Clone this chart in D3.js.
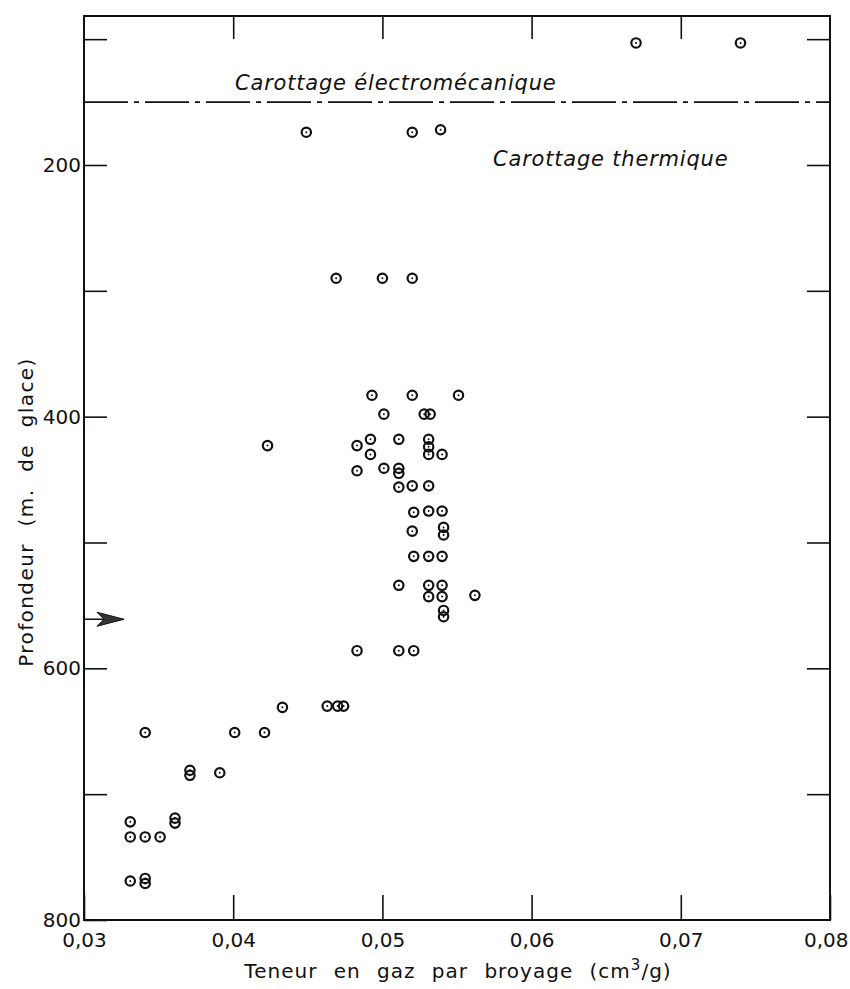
<!DOCTYPE html>
<html><head><meta charset="utf-8">
<script src="https://cdn.jsdelivr.net/npm/d3@7"></script>
<style>body{margin:0;background:#fff}</style></head>
<body><svg id="c" width="850" height="989"></svg>
<script>
// Gas content (cm3/g) and depth (m of ice) for each sample
const gasContent = [
  0.0670, 0.0740,
  0.0449, 0.0520, 0.0539,
  0.0469, 0.0500, 0.0520,
  0.0493, 0.0520, 0.0551,
  0.0501, 0.0528, 0.0532,
  0.0423,
  0.0483, 0.0492, 0.0511, 0.0531,
  0.0531,
  0.0492, 0.0531, 0.0540,
  0.0483, 0.0501, 0.0511, 0.0511,
  0.0511, 0.0520, 0.0531,
  0.0521, 0.0531, 0.0540,
  0.0520, 0.0541, 0.0541,
  0.0521, 0.0531, 0.0540,
  0.0511, 0.0531, 0.0540,
  0.0531, 0.0540, 0.0562,
  0.0541, 0.0541,
  0.0483, 0.0511, 0.0521,
  0.0433, 0.0463, 0.0470, 0.0474,
  0.0341, 0.0401, 0.0421,
  0.0371, 0.0371, 0.0391,
  0.0331, 0.0361, 0.0361,
  0.0331, 0.0341, 0.0351,
  0.0331, 0.0341, 0.0341
];
const depth = [
  103, 103,
  174, 174, 172,
  290, 290, 290,
  383, 383, 383,
  398, 398, 398,
  423,
  423, 418, 418, 418,
  424,
  430, 430, 430,
  443, 441, 441, 445,
  456, 455, 455,
  476, 475, 475,
  491, 488, 494,
  511, 511, 511,
  534, 534, 534,
  543, 543, 542,
  554, 559,
  586, 586, 586,
  631, 630, 630, 630,
  651, 651, 651,
  681, 685, 683,
  722, 719, 723,
  734, 734, 734,
  769, 767, 771
];
const xTickValues = [0.03, 0.04, 0.05, 0.06, 0.07, 0.08];
const xTickLabels = ["0,03", "0,04", "0,05", "0,06", "0,07", "0,08"];
const yTickValues = [100, 200, 300, 400, 500, 600, 700, 800];
const yLabelledTicks = [200, 400, 600, 800];
const boundaryDepth = 150;
const arrowDepth = 561;
const upperLabel = "Carottage électromécanique";
const lowerLabel = "Carottage thermique";

(function () {
const svg = d3.select("#c");
const mL = 84, mR = 830, mT = 16, mB = 920;
const x = d3.scaleLinear().domain([0.03, 0.08]).range([mL, mR]);
const y = d3.scaleLinear().domain([81.6, 800]).range([mT, mB]);
const font = "'DejaVu Sans', sans-serif";

svg.append("rect").attr("x", mL).attr("y", mT)
  .attr("width", mR - mL).attr("height", mB - mT)
  .attr("fill", "none").attr("stroke", "#111").attr("stroke-width", 2);

function style(g) {
  g.select(".domain").remove();
  g.selectAll(".tick line").attr("stroke", "#111").attr("stroke-width", 1.6);
  g.selectAll(".tick text").attr("fill", "#111").style("font-family", font).style("font-size", "20px");
}

svg.append("g").attr("transform", `translate(${mL},0)`)
  .call(d3.axisLeft(y).tickValues(yTickValues).tickSizeInner(-23).tickSizeOuter(0).tickPadding(3)
    .tickFormat(d => yLabelledTicks.includes(d) ? String(d) : ""))
  .call(style);
svg.append("g").attr("transform", `translate(${mR},0)`)
  .call(d3.axisRight(y).tickValues(yTickValues.filter(d => d < 800)).tickSizeInner(-23).tickSizeOuter(0).tickFormat(""))
  .call(style);
const bx = svg.append("g").attr("transform", `translate(0,${mB})`)
  .call(d3.axisBottom(x).tickValues(xTickValues).tickSizeInner(-25).tickSizeOuter(0).tickPadding(13)
    .tickFormat((d, i) => xTickLabels[i]))
  .call(style);
bx.selectAll(".tick text").filter(d => d === 0.08).attr("text-anchor", "end").attr("x", 18);
svg.append("g").attr("transform", `translate(0,${mT})`)
  .call(d3.axisTop(x).tickValues(xTickValues.slice(1, -1)).tickSizeInner(-23).tickSizeOuter(0).tickFormat(""))
  .call(style);

svg.append("line").attr("x1", mL).attr("x2", mR)
  .attr("y1", y(boundaryDepth)).attr("y2", y(boundaryDepth))
  .attr("stroke", "#111").attr("stroke-width", 1.8)
  .attr("stroke-dasharray", "44,6,5,6");

svg.append("text").attr("x", 235).attr("y", y(boundaryDepth) - 12)
  .style("font-family", font).style("font-style", "italic").style("font-size", "21px")
  .style("letter-spacing", "0.8px").attr("fill", "#111").text(upperLabel);
svg.append("text").attr("x", 493).attr("y", y(boundaryDepth) + 64)
  .style("font-family", font).style("font-style", "italic").style("font-size", "21px")
  .style("letter-spacing", "0.8px").attr("fill", "#111").text(lowerLabel);

const ay = y(arrowDepth);
svg.append("line").attr("x1", mL).attr("x2", mL + 38).attr("y1", ay).attr("y2", ay)
  .attr("stroke", "#111").attr("stroke-width", 1.6);
svg.append("path")
  .attr("d", `M${mL + 40},${ay} L${mL + 13},${ay - 7} L${mL + 20},${ay} L${mL + 13},${ay + 7} Z`)
  .attr("fill", "#333").attr("stroke", "#111").attr("stroke-width", 1);

const pts = gasContent.map((g, i) => ({ g, d: depth[i] }));
const pg = svg.append("g");
pg.selectAll("circle.o").data(pts).join("circle").attr("class", "o")
  .attr("cx", p => x(p.g)).attr("cy", p => y(p.d)).attr("r", 4.7)
  .attr("fill", "none").attr("stroke", "#111").attr("stroke-width", 2.2);
pg.selectAll("circle.i").data(pts).join("circle").attr("class", "i")
  .attr("cx", p => x(p.g)).attr("cy", p => y(p.d)).attr("r", 1)
  .attr("fill", "#111");

const xt = svg.append("text").attr("x", 458).attr("y", 978).attr("text-anchor", "middle")
  .style("font-family", font).style("font-size", "20px").style("letter-spacing", "1px")
  .style("word-spacing", "9px").attr("fill", "#111");
xt.append("tspan").text("Teneur en gaz par broyage (cm");
xt.append("tspan").attr("dy", -8).style("font-size", "15px").text("3");
xt.append("tspan").attr("dy", 8).text("/g)");

svg.append("text").attr("transform", `translate(33,512) rotate(-90)`).attr("text-anchor", "middle")
  .style("font-family", font).style("font-size", "20px").style("letter-spacing", "1.4px")
  .style("word-spacing", "9px").attr("fill", "#111").text("Profondeur (m. de glace)");
})();
</script>
</body></html>
